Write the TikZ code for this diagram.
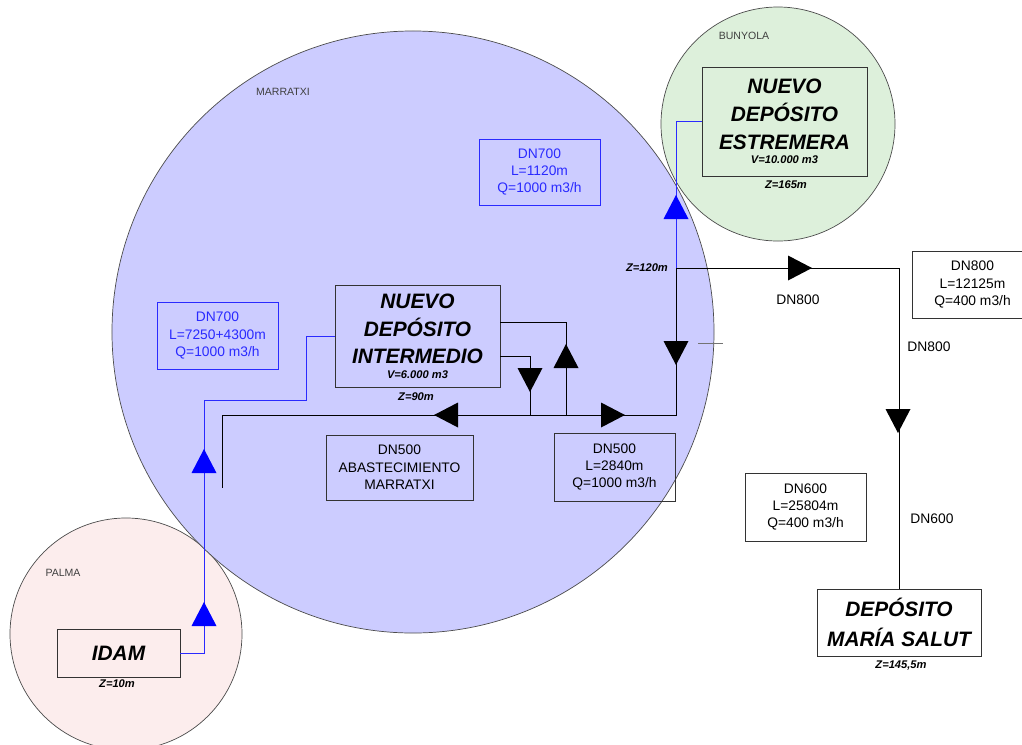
\documentclass[tikz,border=0pt]{standalone}
\usepackage{fontspec}
\setmainfont{Liberation Sans}
\definecolor{marfill}{HTML}{CCCCFF}
\definecolor{bunfill}{HTML}{DDF0DB}
\definecolor{palfill}{HTML}{FCEDED}
\definecolor{pipeblue}{HTML}{2A2AFF}
\definecolor{flowblue}{HTML}{0000FF}

\begin{document}
\begin{tikzpicture}[x=0.03cm, y=-0.03cm,
  zone/.style={draw=black!70, line width=0.6pt},
  zonename/.style={font=\fontsize{9}{10}\selectfont, text=black!75},
  tank/.style={draw=black!80, line width=0.7pt, align=center, inner sep=0pt,
    font=\fontsize{17.8}{23.8}\selectfont\bfseries\itshape},
  info/.style={draw=black!80, line width=0.7pt, align=center, inner sep=0pt,
    font=\fontsize{11.8}{14.8}\selectfont},
  blueinfo/.style={info, draw=pipeblue, text=pipeblue},
  zlabel/.style={font=\fontsize{9.5}{10}\selectfont\bfseries\itshape},
  pipetext/.style={font=\fontsize{11.8}{14.8}\selectfont},
  pipe/.style={draw=black, line width=0.7pt},
  bluepipe/.style={draw=pipeblue, line width=0.7pt},
  flow/.pic={\fill (12,0) -- (-12,12.5) -- (-12,-12.5) -- cycle;}
]
\useasboundingbox (0,0) rectangle (1022,744);

% zonas
\draw[zone, fill=palfill] (126,634) circle[radius=3.48cm];
\draw[zone, fill=bunfill] (778,124) circle[radius=3.51cm];
\draw[zone, fill=marfill] (413,332) circle[radius=9.03cm];
\node[zonename] (marratxi) at (283,92) {MARRATXI};
\node[zonename] (bunyola) at (744,36) {BUNYOLA};
\node[zonename] (palma) at (63,573) {PALMA};

% depositos
\node[tank, minimum width=4.95cm, minimum height=3.06cm] (interm) at (417.5,336)
  {NUEVO\\DEPÓSITO\\INTERMEDIO\\[-11.5pt]{\fontsize{9.5}{10}\selectfont V=6.000 m3}};
\node[tank, minimum width=4.95cm, minimum height=3.27cm] (estrem) at (784.5,121.5)
  {NUEVO\\DEPÓSITO\\ESTREMERA\\[-11.5pt]{\fontsize{9.5}{10}\selectfont V=10.000 m3}};
\node[tank, minimum width=4.92cm, minimum height=2.01cm,
  font=\fontsize{17.8}{25.5}\selectfont\bfseries\itshape] (salut) at (899,622.5)
  {DEPÓSITO\\MARÍA SALUT};
\node[tank, minimum width=3.69cm, minimum height=1.44cm] (idam) at (118.5,653) {IDAM};

\node[zlabel] (zinterm) at (416,397) {Z=90m};
\node[zlabel] (zestrem) at (786,185) {Z=165m};
\node[zlabel] (zsalut) at (901,666) {Z=145,5m};
\node[zlabel] (zidam) at (117,684) {Z=10m};
\node[zlabel] (z120) at (647,268) {Z=120m};

% tuberias
\node[blueinfo, minimum width=3.63cm, minimum height=1.98cm] (dn700a) at (539.5,172)
  {DN700\\L=1120m\\Q=1000 m3/h};
\node[blueinfo, minimum width=3.63cm, minimum height=2.01cm] (dn700b) at (217.5,335.5)
  {DN700\\L=7250+4300m\\Q=1000 m3/h};
\node[info, minimum width=4.41cm, minimum height=1.95cm] (abast) at (399.5,467.5)
  {DN500\\ABASTECIMIENTO\\MARRATXI};
\node[info, minimum width=3.63cm, minimum height=2.04cm] (dn500) at (614.5,467)
  {DN500\\L=2840m\\Q=1000 m3/h};
\node[info, minimum width=3.63cm, minimum height=2.01cm] (dn800) at (972.5,284.5)
  {DN800\\L=12125m\\Q=400 m3/h};
\node[info, minimum width=3.63cm, minimum height=2.04cm] (dn600) at (805.5,507)
  {DN600\\L=25804m\\Q=400 m3/h};

\node[pipetext] (l800a) at (798,300) {DN800};
\node[pipetext] (l800b) at (929,347) {DN800};
\node[pipetext] (l600) at (932,519) {DN600};

\coordinate (j120) at (676,268);
\coordinate (j415) at (676,415);
\coordinate (aend) at (222,488);
\coordinate (ta) at (698,343);
\coordinate (tb) at (723,343);

\draw[bluepipe] (idam.east) -| (204,400) -| (306,336) -- (interm.west);
\draw[bluepipe] (j120) |- (estrem.west);
\draw[pipe] (j120) -| (salut.north);
\draw[pipe] (j120) -- (j415) -| (aend);
\draw[pipe] ([yshift=0.42cm]interm.east) -| (566,415);
\draw[pipe] ([yshift=-0.6cm]interm.east) -| (530,415);
\draw[draw=black!55, line width=0.7pt] (ta) -- (tb);

% sentido del flujo
\pic[flowblue, rotate=90] at (204,614) {flow};
\pic[flowblue, rotate=90] at (204,461) {flow};
\pic[flowblue, rotate=90] at (676,207) {flow};
\pic at (800,268) {flow};
\pic[rotate=-90] at (898,421) {flow};
\pic[rotate=-90] at (676,353) {flow};
\pic[rotate=180] at (446,415) {flow};
\pic at (613,415) {flow};
\pic[rotate=90] at (566,356) {flow};
\pic[rotate=-90] at (530,380) {flow};

\end{tikzpicture}
\end{document}
